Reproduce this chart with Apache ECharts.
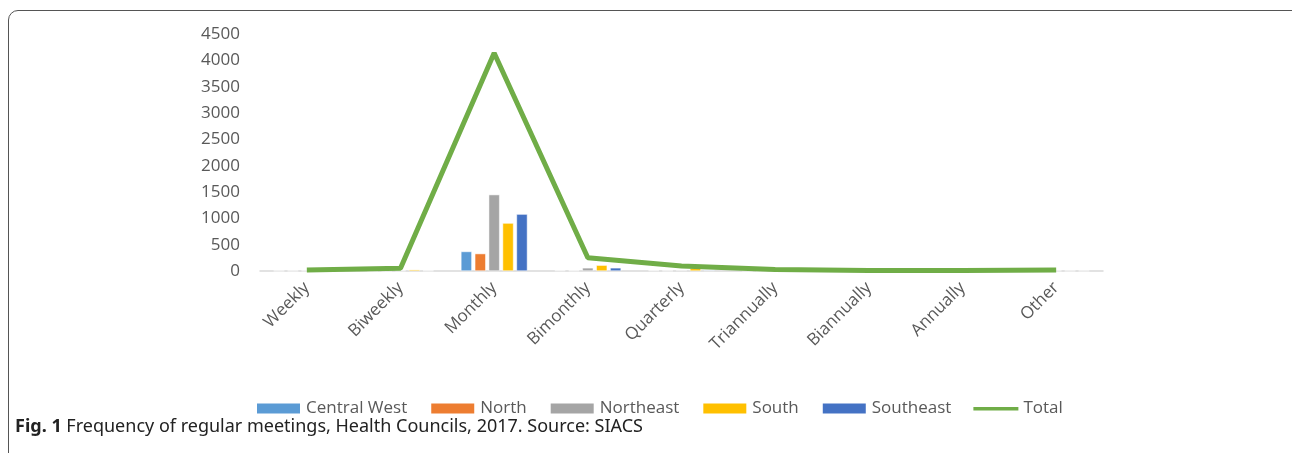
<!DOCTYPE html>
<html lang="en">
<head>
	<meta charset="UTF-8">
	<title>Frequency of regular meetings, Health Councils, 2017</title>
	<script src="https://cdn.jsdelivr.net/npm/echarts@6/dist/echarts.min.js"></script>
	<style>
		html, body { margin: 0; padding: 0; background: #fff; }
		#frame {
			position: absolute; left: 8px; top: 10px; width: 1300px; height: 460px;
			border: 1px solid #555; border-radius: 10px; box-sizing: border-box;
		}
		#chart { position: absolute; left: 0; top: 0; width: 1292px; height: 453px; }
	</style>
</head>
<body>
	<div id="frame"></div>
	<div id="chart"></div>
	<script>
		var categories = ['Weekly', 'Biweekly', 'Monthly', 'Bimonthly', 'Quarterly', 'Triannually', 'Biannually', 'Annually', 'Other'];
		var centralWest = [3, 5, 370, 10, 10, 5, 2, 2, 4];
		var north = [3, 5, 330, 8, 5, 5, 2, 2, 4];
		var northeast = [5, 8, 1450, 60, 15, 8, 3, 3, 5];
		var south = [4, 25, 910, 110, 50, 6, 2, 2, 4];
		var southeast = [5, 7, 1080, 60, 15, 6, 2, 2, 4];
		var total = [20, 50, 4140, 250, 95, 30, 11, 11, 21];
		var yTicks = [0, 500, 1000, 1500, 2000, 2500, 3000, 3500, 4000, 4500];

		var colors = ['#5b9bd5', '#ed7d31', '#a5a5a5', '#ffc000', '#4472c4', '#70ad47'];
		var font = 'Open Sans, Noto Sans, sans-serif';

		function barSeries(name, data) {
			return {
				name: name, type: 'bar', data: data,
				barGap: '27%', barCategoryGap: '29%',
				itemStyle: { borderColor: '#fff', borderWidth: 0.5 }
			};
		}

		var myChart = echarts.init(document.getElementById('chart'));
		myChart.setOption({
			color: colors,
			animation: false,
			grid: { left: 260, right: 189, top: 34, bottom: 182 },
			title: {
				left: 10, top: 413,
				text: '{b|Fig. 1} Frequency of regular meetings, Health Councils, 2017. Source: SIACS',
				textStyle: {
					fontFamily: 'Noto Sans, sans-serif',
					fontSize: 18, fontWeight: 'normal', color: '#222',
					rich: { b: { fontFamily: 'Noto Sans, sans-serif', fontSize: 18, fontWeight: 'bold', color: '#222' } }
				}
			},
			legend: {
				top: 395, left: 250,
				itemWidth: 45, itemHeight: 12, itemGap: 22,
				textStyle: { fontFamily: font, fontSize: 17, color: '#595959' },
				data: [
					{ name: 'Central West', icon: 'rect' },
					{ name: 'North', icon: 'rect' },
					{ name: 'Northeast', icon: 'rect' },
					{ name: 'South', icon: 'rect' },
					{ name: 'Southeast', icon: 'rect' },
					// thin bar in the middle of the icon box, with tiny corner marks to keep the box size
					{ name: 'Total', icon: 'path://M0,0 L0.01,0 L0,0.01 Z M0,4 L60,4 L60,8.5 L0,8.5 Z M60,12 L59.99,12 L60,11.99 Z' }
				]
			},
			xAxis: {
				type: 'category', data: categories,
				axisLine: { lineStyle: { color: '#d9d9d9', width: 1.5 } },
				axisTick: { show: false },
				axisLabel: { rotate: 45, margin: 14, fontFamily: font, fontSize: 17, color: '#595959' }
			},
			yAxis: {
				type: 'value', min: yTicks[0], max: yTicks[yTicks.length - 1], interval: 500,
				axisLine: { show: false }, axisTick: { show: false },
				splitLine: { show: false },
				axisLabel: { margin: 20, fontFamily: font, fontSize: 17, color: '#595959', formatter: function (v) { return String(v); } }
			},
			series: [
				barSeries('Central West', centralWest),
				barSeries('North', north),
				barSeries('Northeast', northeast),
				barSeries('South', south),
				barSeries('Southeast', southeast),
				{
					name: 'Total', type: 'line', data: total,
					symbol: 'none', lineStyle: { width: 5, color: '#70ad47' },
					itemStyle: { color: '#70ad47' }
				}
			]
		});
	</script>
</body>
</html>
